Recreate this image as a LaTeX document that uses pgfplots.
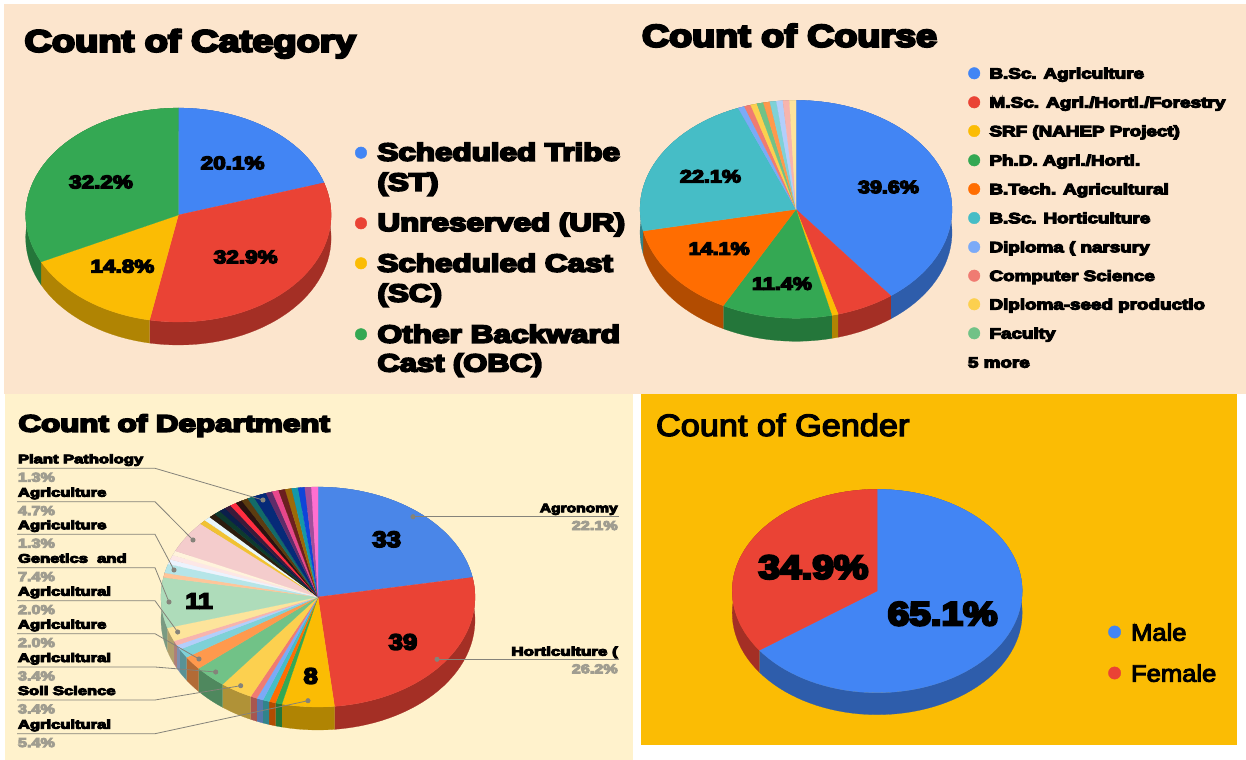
\documentclass[border=0pt]{standalone}
\usepackage{fontspec}
\usepackage{graphicx}
\usepackage{pgfplots}
\pgfplotsset{compat=1.18}
\newfontfamily\hvyf[BoldFeatures={FakeBold=7}]{Liberation Sans}
\newfontfamily\regf[FakeBold=4]{Liberation Sans}
\newcommand\hvy{\hvyf\bfseries}
\definecolor{peach}{HTML}{FCE5CD}
\definecolor{cream}{HTML}{FFF2CC}
\definecolor{amberbg}{HTML}{FBBC04}
\definecolor{leader}{HTML}{85837A}
\definecolor{pctgray}{HTML}{A09D90}
\definecolor{cBlue}{HTML}{4285F4}
\definecolor{cRed}{HTML}{EA4335}
\definecolor{cAmber}{HTML}{FBBC04}
\definecolor{cGreen}{HTML}{34A853}
\definecolor{cOrange}{HTML}{FF6D01}
\definecolor{cTeal}{HTML}{46BDC6}
\definecolor{cLBlue}{HTML}{7BAAF7}
\definecolor{cLRed}{HTML}{F07B72}
\definecolor{cLYellow}{HTML}{FCD04F}
\definecolor{cLGreen}{HTML}{71C287}

% values (counts) / slice colour, clockwise from 12 o'clock
\def\pieCategory{30/4285F4,49/EA4335,22/FBBC04,48/34A853}
\def\pieCourse{59/4285F4,9/EA4335,1/FBBC04,17/34A853,21/FF6D01,33/46BDC6,1/7BAAF7,1/F07B72,1/FCD04F,1/71C287,1/FF994D,1/7ED1D7,1/B3CEFB,1/F7B4AE,1/FDE49B}
\def\pieDepartment{33/4A86E8,39/EA4335,8/FBBC04,1/34A853,1/FF6D01,1/46BDC6,1/7BAAF7,1/F07B72,5/FCD04F,5/71C287,3/FF994D,2/7ED1D7,1/B3CEFB,1/F7B4AE,3/FDE49B,11/AEDCBA,1/FFC599,2/B5E5E8,1/ECF3FE,1/FDE7E6,1/FFF3DC,7/F4CCCC,1/F1C232,1/E8F7FA,1/2B1D0E,1/0D3B2E,1/0B1F4B,1/3B1A3A,1/FF2D40,1/2A1210,1/5C3C10,1/136B68,2/062A78,1/5F2D6A,1/E8478C,1/6B1F1F,1/9C6A08,1/1598A8,1/0F45D9,1/A14F9B,1/FF6FD0}
\def\pieGender{97/4285F4,52/EA4335}

\newcommand\apparc[6]{% from angle, to angle, cx, cy, rx, ry
  \pgfmathtruncatemacro\pn{max(1,ceil(abs(#2-#1)/3))}%
  \foreach \k in {0,...,\pn}{%
    \pgfmathsetmacro\pang{#1+(#2-#1)/\pn*\k}%
    \pgfmathsetmacro\px{#3+#5*sin(\pang)}%
    \pgfmathsetmacro\py{#4-#6*cos(\pang)}%
    \xdef\coords{\coords(\px,\py) }%
  }%
}
\newcommand\drawpie[6]{% cx cy rx ry depth list
  \gdef\psum{0}%
  \foreach \v/\h in #6{%
    \pgfmathparse{\psum+\v}\xdef\psum{\pgfmathresult}%
    \xglobal\definecolor{c\h}{HTML}{\h}%
  }%
  \gdef\pcum{0}%
  \foreach \v/\h in #6{%
    \pgfmathsetmacro\pa{\pcum/\psum*360}%
    \pgfmathparse{\pcum+\v}\xdef\pcum{\pgfmathresult}%
    \pgfmathsetmacro\pb{\pcum/\psum*360}%
    \gdef\coords{}%
    \apparc{\pa}{\pb}{#1}{#2}{#3}{#4}%
    \pgfmathsetmacro\pyb{#2+#5}%
    \apparc{\pb}{\pa}{#1}{\pyb}{#3}{#4}%
    \edef\temp{\noexpand\addplot[fill=c\h!70!black,draw=c\h!70!black,line width=0.2pt,mark=none,forget plot] coordinates {\coords};}\temp
  }%
  \gdef\pcum{0}%
  \foreach \v/\h in #6{%
    \pgfmathsetmacro\pa{\pcum/\psum*360}%
    \pgfmathparse{\pcum+\v}\xdef\pcum{\pgfmathresult}%
    \pgfmathsetmacro\pb{\pcum/\psum*360}%
    \xdef\coords{(#1,#2) }%
    \apparc{\pa}{\pb}{#1}{#2}{#3}{#4}%
    \edef\temp{\noexpand\addplot[fill=c\h,draw=c\h,line width=0.2pt,mark=none,forget plot] coordinates {\coords(#1,#2)};}\temp
  }%
}
% x, y(baseline), anchor, size, hscale, font+text
\newcommand\T[6]{\node[anchor=#3,inner sep=0pt,outer sep=0pt] at (axis cs:#1,#2) {\fontsize{#4}{#4}\selectfont\scalebox{#5}[1]{#6}};}
\newcommand\Dot[4]{\addplot[only marks,mark=*,mark size=#4,color=#3,forget plot] coordinates {(#1,#2)};}
\newcommand\Leader[2]{\addplot[leader,line width=0.8pt,mark=*,mark size=2.1,mark indices={#1},mark options={fill=leader,draw=none},forget plot] coordinates {#2};}

\pgfplotsset{panel/.style={
  scale only axis,y dir=reverse,clip=false,
  axis line style={draw=none},xtick=\empty,ytick=\empty,
  axis background/.style={fill=#1},
  anchor=south west}}

\begin{document}
\begin{tikzpicture}
\path[use as bounding box,fill=white] (0,0) rectangle (1246bp,760bp);

% ---------- Count of Category
\begin{axis}[panel=peach,at={(4bp,366bp)},width=636.5bp,height=390bp,xmin=4,xmax=640.5,ymin=4,ymax=394]
\drawpie{178.4}{215}{152.7}{107}{23}{\pieCategory}
\T{24.5}{51.7}{base west}{31}{1.23}{\hvy Count of Category}
\T{232.6}{169.3}{base}{18.5}{1.22}{\hvy 20.1\%}
\T{245.7}{263.3}{base}{18.5}{1.22}{\hvy 32.9\%}
\T{122.4}{272.6}{base}{18.5}{1.22}{\hvy 14.8\%}
\T{101}{188.3}{base}{18.5}{1.22}{\hvy 32.2\%}
\Dot{361}{152.7}{cBlue}{5.8}
\Dot{361}{223.3}{cRed}{5.8}
\Dot{361}{263.3}{cAmber}{5.8}
\Dot{361}{334.3}{cGreen}{5.8}
\T{377.5}{160.7}{base west}{25}{1.26}{\hvy Scheduled Tribe}
\T{377.5}{190.7}{base west}{25}{1.26}{\hvy (ST)}
\T{377.5}{231}{base west}{25}{1.26}{\hvy Unreserved (UR)}
\T{377.5}{271.7}{base west}{25}{1.26}{\hvy Scheduled Cast}
\T{377.5}{301.7}{base west}{25}{1.26}{\hvy (SC)}
\T{377.5}{342.7}{base west}{25}{1.27}{\hvy Other Backward}
\T{377.5}{371.5}{base west}{25}{1.24}{\hvy Cast (OBC)}
\end{axis}

% ---------- Count of Course
\begin{axis}[panel=peach,at={(640bp,366bp)},width=606bp,height=390bp,xmin=640,xmax=1246,ymin=4,ymax=394]
\drawpie{796}{209.3}{156}{109}{23}{\pieCourse}
\T{642}{46.7}{base west}{31.5}{1.2}{\hvy Count of Course}
\T{888.5}{193.2}{base}{18}{1.2}{\hvy 39.6\%}
\T{710.5}{182.5}{base}{18}{1.2}{\hvy 22.1\%}
\T{719.2}{254.8}{base}{18}{1.2}{\hvy 14.1\%}
\T{782}{289.8}{base}{18}{1.2}{\hvy 11.4\%}
\Dot{974.2}{73.3}{cBlue}{5.8}
\Dot{974.2}{102.3}{cRed}{5.8}
\Dot{974.2}{131}{cAmber}{5.8}
\Dot{974.2}{160.3}{cGreen}{5.8}
\Dot{974.2}{189}{cOrange}{5.8}
\Dot{974.2}{218}{cTeal}{5.8}
\Dot{974.2}{247}{cLBlue}{5.8}
\Dot{974.2}{275.7}{cLRed}{5.8}
\Dot{974.2}{304.3}{cLYellow}{5.8}
\Dot{974.2}{333.3}{cLGreen}{5.8}
\T{989.5}{78.6}{base west}{15}{1.26}{\hvy B.Sc. Agriculture}
\T{989.5}{107.6}{base west}{15}{1.27}{\hvy M.Sc. Agri./Horti./Forestry}
\T{989.5}{136.3}{base west}{15}{1.26}{\hvy SRF (NAHEP Project)}
\T{989.5}{165.6}{base west}{15}{1.26}{\hvy Ph.D. Agri./Horti.}
\T{989.5}{194.3}{base west}{15}{1.26}{\hvy B.Tech. Agricultural}
\T{989.5}{223.3}{base west}{15}{1.26}{\hvy B.Sc. Horticulture}
\T{989.5}{252.3}{base west}{15}{1.26}{\hvy Diploma ( narsury}
\T{989.5}{281}{base west}{15}{1.26}{\hvy Computer Science}
\T{989.5}{309.6}{base west}{15}{1.26}{\hvy Diploma-seed productio}
\T{989.5}{338.6}{base west}{15}{1.26}{\hvy Faculty}
\T{968}{367.6}{base west}{15}{1.26}{\hvy 5 more}
\end{axis}

% ---------- Count of Department
\begin{axis}[panel=cream,at={(5bp,0bp)},width=628bp,height=366bp,xmin=5,xmax=633,ymin=394,ymax=760]
\drawpie{318}{597}{157}{110}{23}{\pieDepartment}
\T{18.5}{431.7}{base west}{24}{1.31}{\hvy Count of Department}
\T{199}{608.7}{base}{22.4}{1.15}{\hvy 11}
\T{386.7}{547}{base}{22.4}{1.15}{\hvy 33}
\T{403}{649.7}{base}{22.4}{1.15}{\hvy 39}
\T{310.7}{683.7}{base}{22.4}{1.15}{\hvy 8}
\Leader{3}{(17,468.3)(155,468.3)(263,500)}
\Leader{3}{(17,501.7)(155,501.7)(193,540)}
\Leader{3}{(17,534.3)(155,534.3)(174,570)}
\Leader{3}{(17,567.7)(155,567.7)(169,602)}
\Leader{3}{(17,600.7)(155,600.7)(177.7,632)}
\Leader{3}{(17,633.7)(155,633.7)(199,659)}
\Leader{3}{(17,667)(155,667)(215.7,672)}
\Leader{3}{(17,700)(155,700)(240.7,685.7)}
\Leader{3}{(17,733.7)(155,733.7)(308,700.7)}
\Leader{2}{(619,516.7)(413,516.7)}
\Leader{2}{(619,659.3)(437,659.3)}
\T{18}{463.3}{base west}{12.5}{1.33}{\hvy Plant Pathology}
\T{18}{496.7}{base west}{12.5}{1.33}{\hvy Agriculture}
\T{18}{529.3}{base west}{12.5}{1.33}{\hvy Agriculture}
\T{18}{562.7}{base west}{12.5}{1.33}{\hvy Genetics\ \ and}
\T{18}{595.7}{base west}{12.5}{1.33}{\hvy Agricultural}
\T{18}{628.7}{base west}{12.5}{1.33}{\hvy Agriculture}
\T{18}{662}{base west}{12.5}{1.33}{\hvy Agricultural}
\T{18}{695}{base west}{12.5}{1.33}{\hvy Soil Science}
\T{18}{728.7}{base west}{12.5}{1.33}{\hvy Agricultural}
\T{18}{481.7}{base west}{13}{1.25}{\hvy\color{pctgray}1.3\%}
\T{18}{515.1}{base west}{13}{1.25}{\hvy\color{pctgray}4.7\%}
\T{18}{547.7}{base west}{13}{1.25}{\hvy\color{pctgray}1.3\%}
\T{18}{581.1}{base west}{13}{1.25}{\hvy\color{pctgray}7.4\%}
\T{18}{614.1}{base west}{13}{1.25}{\hvy\color{pctgray}2.0\%}
\T{18}{647.1}{base west}{13}{1.25}{\hvy\color{pctgray}2.0\%}
\T{18}{680.4}{base west}{13}{1.25}{\hvy\color{pctgray}3.4\%}
\T{18}{713.4}{base west}{13}{1.25}{\hvy\color{pctgray}3.4\%}
\T{18}{747.1}{base west}{13}{1.25}{\hvy\color{pctgray}5.4\%}
\T{617.7}{512.3}{base east}{12.5}{1.25}{\hvy Agronomy}
\T{617.7}{530}{base east}{13}{1.25}{\hvy\color{pctgray}22.1\%}
\T{617.7}{655.7}{base east}{12.5}{1.36}{\hvy Horticulture (}
\T{617.7}{673.3}{base east}{13}{1.25}{\hvy\color{pctgray}26.2\%}
\end{axis}

% ---------- Count of Gender
\begin{axis}[panel=amberbg,at={(641bp,15bp)},width=596bp,height=351bp,xmin=641,xmax=1237,ymin=394,ymax=745]
\drawpie{877.2}{591}{145}{101.7}{22}{\pieGender}
\T{656}{436}{base west}{31}{1.11}{\regf Count of Gender}
\T{813.4}{578.7}{base}{33.5}{1.16}{\hvy 34.9\%}
\T{942.6}{625.3}{base}{33.5}{1.16}{\hvy 65.1\%}
\Dot{1114.6}{632}{cBlue}{6.2}
\Dot{1114.6}{673}{cRed}{6.2}
\T{1131}{640.7}{base west}{24}{1.07}{\regf Male}
\T{1131}{681.7}{base west}{24}{1.07}{\regf Female}
\end{axis}
\end{tikzpicture}
\end{document}
